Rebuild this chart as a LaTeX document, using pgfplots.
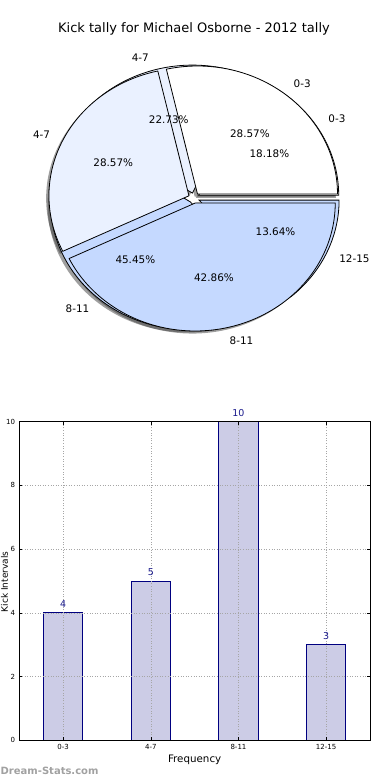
\documentclass[border=0pt]{standalone}
\usepackage{pgfplots}
\pgfplotsset{compat=1.18}
\usepackage{fontspec}
\setmainfont{DejaVu Sans}
\definecolor{cA}{HTML}{FFFFFF}
\definecolor{cB}{HTML}{EAF1FF}
\definecolor{cC}{HTML}{C5D9FF}
\definecolor{barfill}{HTML}{CCCCE6}
\definecolor{navyc}{HTML}{000080}
\definecolor{vallab}{HTML}{1A1A8C}
\newcommand\labfont{\fontsize{10.4}{12}\selectfont}
\newcommand\titfont{\fontsize{13}{15}\selectfont}
\newcommand\ticfont{\fontsize{7}{8}\selectfont}
\newcommand\vlfont{\fontsize{9.5}{11}\selectfont}
\newcommand\xlfont{\fontsize{10.3}{12}\selectfont}
% #1 cumulative start, #2 value, #3 total, #4 explode
\newcommand\pieshadow[4]{%
  \pgfmathsetmacro\PSa{360*#1/#3}%
  \pgfmathsetmacro\PEa{360*(#1+#2)/#3}%
  \pgfmathsetmacro\PMa{(\PSa+\PEa)/2}%
  \pgfmathsetmacro\POx{#4*cos(\PMa)-0.02}%
  \pgfmathsetmacro\POy{#4*sin(\PMa)-0.02}%
  \edef\PTemp{\noexpand\addplot[draw=none, fill=black!75, fill opacity=0.5, domain=\PSa:\PEa, samples=90] ({\POx+cos(x)},{\POy+sin(x)}) -- (axis cs:\POx,\POy) -- cycle;}%
  \PTemp}
% #1 start, #2 value, #3 total, #4 explode, #5 colour
\newcommand\pieslice[5]{%
  \pgfmathsetmacro\PSa{360*#1/#3}%
  \pgfmathsetmacro\PEa{360*(#1+#2)/#3}%
  \pgfmathsetmacro\PMa{(\PSa+\PEa)/2}%
  \pgfmathsetmacro\POx{#4*cos(\PMa)}%
  \pgfmathsetmacro\POy{#4*sin(\PMa)}%
  \edef\PTemp{\noexpand\addplot[draw=black, line width=0.8pt, fill=#5, domain=\PSa:\PEa, samples=90] ({\POx+cos(x)},{\POy+sin(x)}) -- (axis cs:\POx,\POy) -- cycle;}%
  \PTemp}
% #1 start, #2 value, #3 total, #4 explode, #5 label, #6 percent
\newcommand\pietext[6]{%
  \pgfmathsetmacro\PSa{360*#1/#3}%
  \pgfmathsetmacro\PEa{360*(#1+#2)/#3}%
  \pgfmathsetmacro\PMa{(\PSa+\PEa)/2}%
  \pgfmathsetmacro\POx{#4*cos(\PMa)}%
  \pgfmathsetmacro\POy{#4*sin(\PMa)}%
  \pgfmathsetmacro\PLx{\POx+1.1*cos(\PMa)}%
  \pgfmathsetmacro\PLy{\POy+1.1*sin(\PMa)}%
  \pgfmathsetmacro\PPx{\POx+0.6*cos(\PMa)}%
  \pgfmathsetmacro\PPy{\POy+0.6*sin(\PMa)}%
  \pgfmathsetmacro\PCm{cos(\PMa)}%
  \ifdim\PCm pt>0pt \def\PAnc{west}\else\def\PAnc{east}\fi
  \edef\PTemp{\noexpand\node[anchor=\PAnc, font=\noexpand\labfont, inner sep=0pt] at (axis cs:\PLx,\PLy) {\unexpanded{#5}};
    \noexpand\node[font=\noexpand\labfont, inner sep=0pt] at (axis cs:\PPx,\PPy) {\unexpanded{#6}};}%
  \PTemp}
\pgfplotsset{pieaxis/.style={at={(0pt,-400pt)}, anchor=south west, width=390pt, height=400pt, scale only axis,
  xmin=-1.38571, xmax=1.4, ymin=-1.578125, ymax=1.546875, hide axis, clip=false}}
\begin{document}
\begin{tikzpicture}
% shadows of both pies, then the four-slice pie
\begin{axis}[pieaxis]
\pieshadow{0}{4}{22}{0.04}
\pieshadow{4}{5}{22}{0.04}
\pieshadow{9}{10}{22}{0.04}
\pieshadow{19}{3}{22}{0.04}
\pieshadow{0}{2}{7}{0.04}
\pieshadow{2}{2}{7}{0.04}
\pieshadow{4}{3}{7}{0.04}
\pieslice{0}{4}{22}{0.04}{cA}
\pieslice{4}{5}{22}{0.04}{cB}
\pieslice{9}{10}{22}{0.04}{cC}
\pieslice{19}{3}{22}{0.04}{cC}
\end{axis}
% three-slice pie on top, then all texts
\begin{axis}[pieaxis]
\pieslice{0}{2}{7}{0.04}{cA}
\pieslice{2}{2}{7}{0.04}{cB}
\pieslice{4}{3}{7}{0.04}{cC}
\pietext{0}{4}{22}{0.04}{0-3}{18.18\%}
\pietext{4}{5}{22}{0.04}{4-7}{22.73\%}
\pietext{9}{10}{22}{0.04}{8-11}{45.45\%}
\pietext{19}{3}{22}{0.04}{12-15}{13.64\%}
\pietext{0}{2}{7}{0.04}{0-3}{28.57\%}
\pietext{2}{2}{7}{0.04}{4-7}{28.57\%}
\pietext{4}{3}{7}{0.04}{8-11}{42.86\%}
\node[font=\titfont] at (axis cs:0,1.318) {Kick tally for Michael Osborne - 2012 tally};
\end{axis}
% bar chart
\begin{axis}[at={(19.3pt,-740.3pt)}, anchor=south west, width=350.7pt, height=318.6pt, scale only axis,
  xmin=-0.5, xmax=3.5, ymin=0, ymax=10, clip=false,
  xtick={0,1,2,3}, xticklabels={0-3,4-7,8-11,12-15},
  ytick={0,2,4,6,8,10},
  /pgf/number format/assume math mode=true,
  tick label style={font=\ticfont},
  xticklabel style={anchor=base, inner sep=0pt, yshift=-9.6pt},
  yticklabel style={anchor=east, inner sep=0pt, xshift=-4pt},
  tick align=inside, major tick length=3pt, tick style={black, line width=0.6pt},
  axis line style={black, line width=0.8pt},
  grid=major, grid style={gray!70, line width=0.6pt, dash pattern=on 1pt off 1.6pt},
  axis on top,
  xlabel={Frequency}, xlabel style={font=\xlfont, at={(axis description cs:0.5,0)}, anchor=center, yshift=-19.7pt},
  ]
\addplot[ybar, bar width=0.45, fill=barfill, draw=navyc, line width=0.8pt,
  nodes near coords, every node near coord/.style={font=\vlfont, color=vallab, anchor=base, inner sep=0pt, yshift=5.5pt}]
  coordinates {(0,4) (1,5) (2,10) (3,3)};
\end{axis}
\node[rotate=90, anchor=base, inner sep=0pt, font=\fontsize{9}{11}\selectfont] at (7.8pt,-582pt) {Kick Intervals};
\node[anchor=base west, inner sep=0pt, font=\bfseries\fontsize{10}{12}\selectfont, color=black!37] at (0.5pt,-774pt) {Dream-Stats.com};
\pgfresetboundingbox
\useasboundingbox (0pt,0pt) rectangle (390pt,-780pt);
\end{tikzpicture}
\end{document}
